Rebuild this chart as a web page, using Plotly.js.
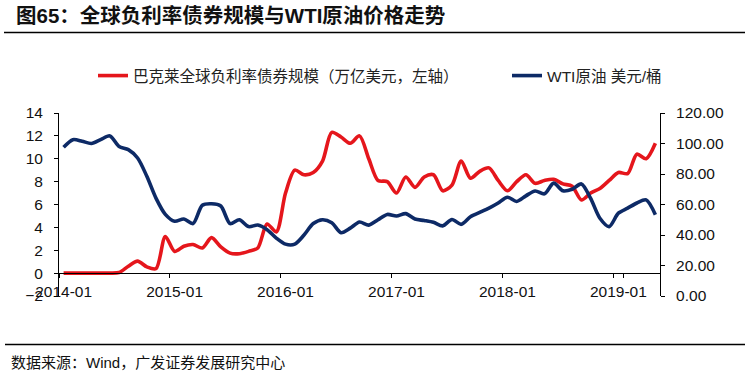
<!DOCTYPE html>
<html>
<head>
<meta charset="utf-8">
<script src="https://cdn.plot.ly/plotly-3.0.1.min.js"></script>
<style>
  html, body { margin: 0; padding: 0; background: #fff; }
  #chart { width: 750px; height: 374px; }
</style>
</head>
<body>
<div id="chart"></div>
<script>
// Months (category axis)
var months = [
  '2014-01','2014-02','2014-03','2014-04','2014-05','2014-06','2014-07','2014-08','2014-09','2014-10','2014-11','2014-12',
  '2015-01','2015-02','2015-03','2015-04','2015-05','2015-06','2015-07','2015-08','2015-09','2015-10','2015-11','2015-12',
  '2016-01','2016-02','2016-03','2016-04','2016-05','2016-06','2016-07','2016-08','2016-09','2016-10','2016-11','2016-12',
  '2017-01','2017-02','2017-03','2017-04','2017-05','2017-06','2017-07','2017-08','2017-09','2017-10','2017-11','2017-12',
  '2018-01','2018-02','2018-03','2018-04','2018-05','2018-06','2018-07','2018-08','2018-09','2018-10','2018-11','2018-12',
  '2019-01','2019-02','2019-03','2019-04','2019-05'
];

// Barclays global negative-yield bond size (trillion USD, left axis)
var negBonds = [
  0, 0, 0, 0, 0, 0, 0.05, 0.6, 1.05, 0.55, 0.4, 3.2,
  1.9, 2.35, 2.5, 2.2, 3.1, 2.3, 1.75, 1.7, 1.9, 2.2, 4.3, 3.6,
  7.0, 9.0, 8.6, 8.8, 9.8, 12.3, 11.9, 11.35, 12.0, 10.0, 8.1, 8.0,
  7.0, 8.4, 7.5, 8.4, 8.6, 7.2, 7.7, 9.8, 8.3, 8.9, 9.2, 8.1,
  7.2, 8.0, 8.6, 7.85, 8.1, 8.2, 7.8, 7.6, 6.4, 7.0, 7.4, 8.1,
  8.8, 8.7, 10.4, 10.0, 11.35
];

// WTI crude (USD/barrel, right axis)
var wti = [
  97.5, 102.5, 101.5, 100, 102.5, 105, 98, 96, 90.5, 78.5, 64, 53.5,
  49, 50.5, 47.5, 59.5, 60.5, 59, 47.5, 50, 45.5, 46.5, 43.5, 38,
  34, 34, 40, 47.5, 50, 48, 41.5, 44.5, 48.5, 46.5, 50, 53.5,
  52.5, 54, 50.5, 49.5, 48.3, 46, 50.2, 47, 52, 54.8, 57.6, 61,
  64.8, 62, 65.7, 68.9, 67, 74, 69, 70, 73.5, 64, 51, 45.5,
  54.3, 57.6, 61, 63, 53.3
];

var xTicks = ['2014-01','2015-01','2016-01','2017-01','2018-01','2019-01'];
var leftTicks = [-2, 0, 2, 4, 6, 8, 10, 12, 14];
var rightTicks = [0, 20, 40, 60, 80, 100, 120];

var RED = '#E5161C';
var BLUE = '#0D2A66';
var latin = 'Liberation Sans, Arial, Noto Sans CJK SC, sans-serif';
var cjk = 'Liberation Sans, Noto Sans CJK SC, sans-serif';

var traces = [
  {
    x: months, y: negBonds, type: 'scatter', mode: 'lines',
    name: '巴克莱全球负利率债券规模（万亿美元，左轴）',
    line: { color: RED, width: 3.6, shape: 'spline', smoothing: 0.8 },
    xaxis: 'x', yaxis: 'y', hoverinfo: 'skip', legend: 'legend'
  },
  {
    x: months, y: wti, type: 'scatter', mode: 'lines',
    name: 'WTI原油 美元/桶',
    line: { color: BLUE, width: 3.6, shape: 'spline', smoothing: 0.8 },
    xaxis: 'x', yaxis: 'y2', hoverinfo: 'skip', legend: 'legend2'
  }
];

// plot area: x 59..660, y 113..296
var L = 59, R = 660, T = 113, B = 296;
var W = R - L, H = B - T;
function px(x) { return (x - L) / W; }
function py(y) { return (B - y) / H; }

function legendAt(xPix) {
  return {
    orientation: 'h',
    xref: 'container', yref: 'container',
    x: xPix / 750, xanchor: 'left',
    y: 1 - 76 / 374, yanchor: 'middle',
    font: { family: cjk, size: 15.5, color: '#222' },
    bgcolor: 'rgba(0,0,0,0)', borderwidth: 0,
    itemwidth: 30
  };
}

var layout = {
  width: 750, height: 374,
  margin: { l: L, r: 750 - R, t: T, b: 374 - B, pad: 0 },
  paper_bgcolor: '#fff', plot_bgcolor: '#fff',
  showlegend: true,
  title: {
    text: '<b>图65：全球负利率债券规模与WTI原油价格走势</b>',
    font: { family: cjk, size: 20.5, color: '#111' },
    xref: 'container', yref: 'container',
    x: 16 / 750, xanchor: 'left',
    y: 1 - 16 / 374, yanchor: 'middle',
    pad: { t: 0, b: 0, l: 0, r: 0 }
  },
  legend: legendAt(93),
  legend2: legendAt(507),
  xaxis: {
    type: 'category',
    range: [-0.5, months.length - 0.5],
    anchor: 'free', position: 2 / 16,
    tickmode: 'array', tickvals: xTicks, ticktext: xTicks,
    tickson: 'boundaries', tickangle: 0,
    ticks: 'outside', ticklen: 4, tickwidth: 1, tickcolor: '#000',
    showline: true, linecolor: '#000', linewidth: 1,
    showgrid: false, zeroline: false,
    tickfont: { family: latin, size: 15.5, color: '#111' },
    ticklabelstandoff: 4,
    fixedrange: true
  },
  yaxis: {
    range: [-2, 14],
    tickmode: 'array', tickvals: leftTicks,
    ticks: 'outside', ticklen: 4, tickwidth: 1, tickcolor: '#000',
    showline: true, linecolor: '#000', linewidth: 1,
    showgrid: false, zeroline: false,
    tickfont: { family: latin, size: 15.5, color: '#111' },
    ticklabelstandoff: 8,
    fixedrange: true
  },
  yaxis2: {
    overlaying: 'y', side: 'right',
    range: [0, 120],
    tickmode: 'array', tickvals: rightTicks, tickformat: '.2f',
    ticks: 'outside', ticklen: 4, tickwidth: 1, tickcolor: '#000',
    showline: true, linecolor: '#000', linewidth: 1,
    showgrid: false, zeroline: false,
    tickfont: { family: latin, size: 15.5, color: '#111' },
    ticklabelstandoff: 8,
    fixedrange: true
  },
  shapes: [
    { type: 'line', xref: 'paper', yref: 'paper',
      x0: px(4), x1: px(745), y0: py(32.5), y1: py(32.5),
      line: { color: '#000', width: 1.5 } },
    { type: 'line', xref: 'paper', yref: 'paper',
      x0: px(5), x1: px(745), y0: py(344.5), y1: py(344.5),
      line: { color: '#000', width: 1.5 } }
  ],
  annotations: [
    { xref: 'paper', yref: 'paper', x: px(9), y: py(362),
      xanchor: 'left', yanchor: 'middle', showarrow: false,
      text: '数据来源：Wind，广发证券发展研究中心',
      font: { family: cjk, size: 15, color: '#111' } }
  ]
};

Plotly.newPlot('chart', traces, layout, { displayModeBar: false, staticPlot: true });
</script>
</body>
</html>
